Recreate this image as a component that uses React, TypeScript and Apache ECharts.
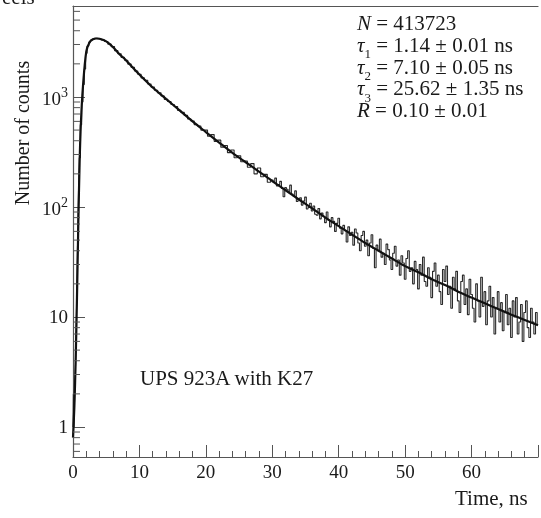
import React, { useEffect, useRef } from 'react';
import * as echarts from 'echarts';

const FONT = '"Liberation Serif", "Times New Roman", serif';

// x-axis tick labels (ns)
const xTickLabels = [0, 10, 20, 30, 40, 50, 60];

// measured histogram: rising edge (explicit channel times)
const riseTimes = [0, 0.1, 0.2, 0.3, 0.4, 0.5, 0.6, 0.7, 0.8, 0.9, 1.0, 1.2, 1.4, 1.6, 1.8, 2.0, 2.25, 2.5, 2.75, 3.0];
const riseCounts = [1, 2, 1, 2, 3, 6, 14, 35, 75, 160, 280, 560, 900, 1300, 1800, 2500, 2900, 3150, 3280, 3350];

// measured histogram: decay, channels from 3.5 ns every 0.5 ns
const decayStart = 3.5;
const decayStep = 0.5;
const decayCounts = [
  3420, 3370, 3300, 3190, 3020, 2870, 2640, 2470, 2290, 2160,
  1990, 1860, 1720, 1610, 1490, 1420, 1310, 1230, 1150, 1090,
  1020, 950, 910, 855, 820, 755, 725, 680, 630, 605,
  560, 545, 500, 500, 440, 455, 395, 405, 350, 362,
  312, 330, 280, 292, 258, 262, 230, 248, 200, 226,
  188, 198, 168,
];

// measured histogram: tail, channels from 30 ns every 0.25 ns
const tailStart = 30;
const tailStep = 0.25;
const tailCounts = [
  176, 168, 183, 155, 160, 171, 147, 124, 150, 145,
  136, 158, 131, 126, 140, 112, 118, 121, 104, 113,
  123, 96, 99, 108, 92, 102, 86, 84, 97, 78,
  88, 82, 72, 90, 76, 66, 80, 74, 60, 71,
  79, 64, 57, 68, 61, 48, 66, 55, 59, 45,
  63, 58, 47, 40, 55, 60, 44, 50, 36, 47,
  56, 42, 28, 45, 40, 51, 35, 38, 30, 46,
  41, 33, 27, 38, 44, 29, 33, 24, 36, 31,
  22, 34, 40, 26, 28, 20, 32, 27, 18, 30,
  24, 35, 21, 19, 28, 23, 15, 26, 31, 19,
  24, 17, 13, 27, 21, 29, 16, 19, 12, 23,
  18, 26, 14, 11, 21, 24, 13, 18, 10.5, 22,
  16, 12, 9, 20, 14, 10, 23, 12.5, 17, 8.5,
  14, 19, 10, 15, 7, 12, 17, 9, 13.5, 7.5,
  11, 16, 8.5, 12, 6.5, 14, 10, 15, 7, 9,
  13, 6, 11, 14, 8, 6.5, 12, 9, 7, 11,
  8.5,
];

// fitted three-exponential curve
const fitTimes = [0, 0.2, 0.4, 0.6, 0.8, 1.0, 1.2, 1.5, 2, 2.5, 3, 3.5, 4, 5, 6, 7, 8, 9, 10, 12, 14, 16, 18, 20, 22, 24, 26, 28, 30, 32, 34, 36, 38, 40, 42, 44, 46, 48, 50, 52, 54, 56, 58, 60, 62, 64, 66, 68, 70];
const fitCounts = [0.8, 1.5, 4, 15, 70, 260, 600, 1250, 2600, 3150, 3350, 3400, 3380, 3200, 2850, 2450, 2150, 1850, 1600, 1220, 960, 760, 600, 480, 385, 310, 255, 210, 172, 142, 117, 97, 80, 67, 56, 47, 40, 34, 29, 25.5, 22, 19.5, 17, 15, 13.3, 11.8, 10.5, 9.4, 8.4];

// log minor ticks on the y axis
const yMinorTicks = [0.6, 0.7, 0.8, 0.9, 2, 3, 4, 5, 6, 7, 8, 9, 20, 30, 40, 50, 60, 70, 80, 90, 200, 300, 400, 500, 600, 700, 800, 900, 2000, 3000, 4000, 5000, 6000];

// fit parameters text
const paramSymbols = ['N', 'τ', 'τ', 'τ', 'R'];
const paramSubs = ['', '1', '2', '3', ''];
const paramTexts = [' = 413723', ' = 1.14 ± 0.01 ns', ' = 7.10 ± 0.05 ns', ' = 25.62 ± 1.35 ns', ' = 0.10 ± 0.01'];

const sampleLabel = 'UPS 923A with K27';
const xAxisName = 'Time, ns';
const yAxisName = 'Number of counts';

export default function App() {
  const ref = useRef<HTMLDivElement>(null);

  useEffect(() => {
    if (!ref.current) return;
    const chart = echarts.init(ref.current, undefined, { renderer: 'svg' });

    const measured: [number, number][] = [];
    riseTimes.forEach((t, i) => measured.push([t, riseCounts[i]]));
    decayCounts.forEach((v, i) => measured.push([decayStart + i * decayStep, v]));
    tailCounts.forEach((v, i) => measured.push([tailStart + i * tailStep, v]));
    const fit = fitTimes.map((t, i) => [t, fitCounts[i]]);

    const axisColor = '#555';

    const paramGraphics = paramSymbols.map((s, i) => ({
      type: 'text',
      x: 357,
      y: 31 + i * 21.8,
      style: {
        text: `{i|${s}}` + (paramSubs[i] ? `{sub|${paramSubs[i]}}` : '') + `{b|${paramTexts[i]}}`,
        align: 'left',
        verticalAlign: 'middle',
        fill: '#1a1a1a',
        rich: {
          i: { fontFamily: FONT, fontSize: 21, lineHeight: 15, fontStyle: 'italic', fill: '#1a1a1a', verticalAlign: 'bottom', padding: [0, 0, 5, 0] },
          sub: { fontFamily: FONT, fontSize: 13, lineHeight: 11, fill: '#1a1a1a', verticalAlign: 'bottom', padding: [0, 0, 0, 0] },
          b: { fontFamily: FONT, fontSize: 21, lineHeight: 15, fill: '#1a1a1a', verticalAlign: 'bottom', padding: [0, 0, 5, 0] },
        },
      },
    }));

    chart.setOption({
      animation: false,
      grid: { left: 73, top: 6, right: -8, bottom: 61, containLabel: false },
      xAxis: [
        {
          type: 'value',
          min: 0,
          max: 70,
          interval: 10,
          axisLine: { onZero: false, lineStyle: { color: axisColor, width: 1.2 } },
          axisTick: { inside: true, length: 12, lineStyle: { color: axisColor, width: 1 } },
          minorTick: { show: true, splitNumber: 5, length: 6, lineStyle: { color: axisColor, width: 1 } },
          axisLabel: {
            fontFamily: FONT,
            fontSize: 19,
            color: '#1a1a1a',
            margin: 5,
            formatter: (v: number) => (xTickLabels.includes(v) ? String(v) : ''),
          },
          splitLine: { show: false },
        },
        {
          type: 'value',
          position: 'top',
          min: 0,
          max: 70,
          axisLine: { show: true, onZero: false, lineStyle: { color: axisColor, width: 1.2 } },
          axisTick: { show: false },
          axisLabel: { show: false },
          splitLine: { show: false },
        },
      ],
      yAxis: {
        type: 'log',
        logBase: 10,
        min: 0.5336,
        max: 6714,
        axisLine: { show: true, onZero: false, lineStyle: { color: axisColor, width: 1.2 } },
        axisTick: { show: true, inside: true, length: 12, lineStyle: { color: axisColor, width: 1 } },
        minorTick: { show: false },
        splitLine: { show: false },
        axisLabel: {
          margin: 5,
          formatter: (v: number) => {
            const l = Math.log10(v);
            const e = Math.round(l);
            if (Math.abs(l - e) > 1e-6) return '';
            if (e === 0) return '{b|1}';
            if (e === 1) return '{b|10}';
            return `{b|10}{sup|${e}}`;
          },
          rich: {
            b: { fontFamily: FONT, fontSize: 19, color: '#1a1a1a', verticalAlign: 'bottom' },
            sup: { fontFamily: FONT, fontSize: 14, color: '#1a1a1a', verticalAlign: 'bottom', padding: [0, 0, 9, 0] },
          },
        },
      },
      series: [
        {
          type: 'line',
          name: 'measured',
          data: measured,
          step: 'middle',
          showSymbol: false,
          symbol: 'none',
          lineStyle: { color: '#2a2a2a', width: 1.1 },
          z: 2,
        },
        {
          type: 'line',
          name: 'fit',
          data: fit,
          smooth: 0.3,
          showSymbol: false,
          symbol: 'none',
          lineStyle: { color: '#111', width: 2.2 },
          z: 3,
        },
        {
          type: 'custom',
          silent: true,
          clip: false,
          data: yMinorTicks.map((v) => [0, v]),
          renderItem: (params: any, api: any) => {
            const p = api.coord([api.value(0), api.value(1)]);
            return {
              type: 'line',
              shape: { x1: p[0], y1: p[1], x2: p[0] + 7, y2: p[1] },
              style: { stroke: axisColor, lineWidth: 1 },
            };
          },
          z: 4,
        },
      ],
      graphic: [
        {
          type: 'text',
          x: 22,
          y: 133,
          rotation: Math.PI / 2,
          style: { text: yAxisName, fontFamily: FONT, fontSize: 20, fill: '#1a1a1a', align: 'center', verticalAlign: 'middle' },
        },
        {
          type: 'text',
          x: 455,
          y: 498,
          style: { text: xAxisName, fontFamily: FONT, fontSize: 21, fill: '#1a1a1a', align: 'left', verticalAlign: 'middle' },
        },
        {
          type: 'text',
          x: 140,
          y: 378,
          style: { text: sampleLabel, fontFamily: FONT, fontSize: 21, fill: '#1a1a1a', align: 'left', verticalAlign: 'middle' },
        },
        {
          type: 'text',
          x: 2,
          y: -14,
          style: { text: 'eels', fontFamily: FONT, fontSize: 21, fill: '#1a1a1a', align: 'left', verticalAlign: 'top' },
        },
        ...paramGraphics,
      ],
    });

    return () => chart.dispose();
  }, []);

  return <div ref={ref} style={{ position: 'fixed', left: 0, top: 0, width: 541, height: 518 }} />;
}
